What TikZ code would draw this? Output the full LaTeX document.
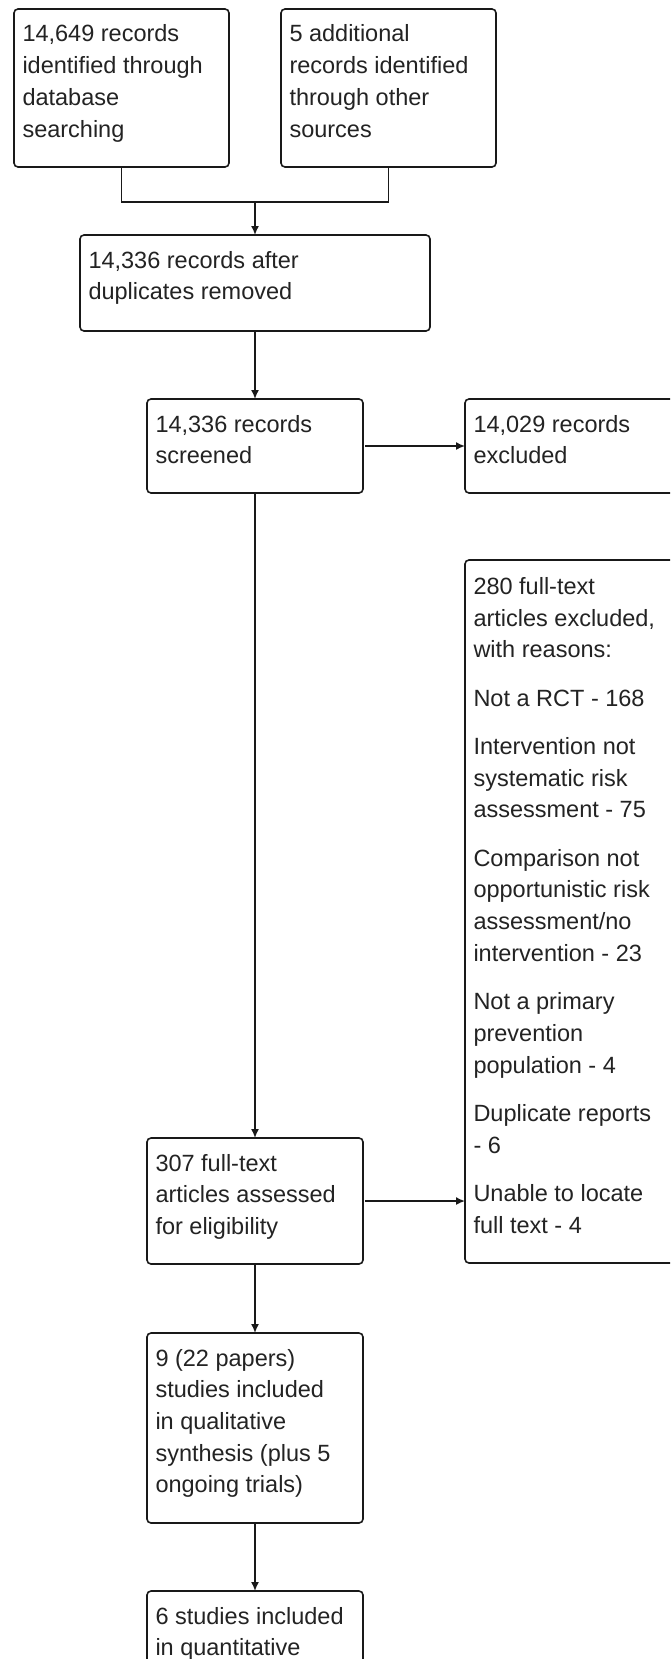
\documentclass[tikz,border=0pt]{standalone}
\usepackage{fontspec}
\setmainfont{Liberation Sans}
\usetikzlibrary{arrows.meta,calc}
\definecolor{ink}{RGB}{25,25,25}
\definecolor{txtc}{RGB}{35,35,35}
\tikzset{
  boxstyle/.style={draw=ink, line width=1.6pt, rounded corners=4pt, fill=white,
    anchor=north west, inner sep=0pt, outer sep=0pt},
  txtstyle/.style={anchor=base west, inner sep=0pt, outer sep=0pt, text=txtc,
    font=\fontsize{23.5pt}{31.7pt}\selectfont},
  conn/.style={draw=ink, line width=1.6pt},
  arr/.style={conn, -{Latex[length=9pt,width=8pt]}}
}
\newcommand{\boxtxt}[1]{\parbox[t]{320pt}{\raggedright #1}}
\begin{document}
\begin{tikzpicture}[x=1pt,y=-1pt]
\useasboundingbox (0,0) rectangle (670,1659);
\fill[white] (0,0) rectangle (670,1659);
\clip (0,0) rectangle (670,1659);

% boxes
\node[boxstyle, minimum width=215pt, minimum height=158pt] (b1) at (14,9) {};
\node[boxstyle, minimum width=215pt, minimum height=158pt] (b2) at (281,9) {};
\node[boxstyle, minimum width=350pt, minimum height=96pt] (b3) at (80,235) {};
\node[boxstyle, minimum width=216pt, minimum height=94pt] (b4) at (147,399) {};
\node[boxstyle, minimum width=240pt, minimum height=94pt] (b5) at (465,399) {};
\node[boxstyle, minimum width=240pt, minimum height=703pt] (b6) at (465,560) {};
\node[boxstyle, minimum width=216pt, minimum height=126pt] (b7) at (147,1138) {};
\node[boxstyle, minimum width=216pt, minimum height=190pt] (b8) at (147,1333) {};
\node[boxstyle, minimum width=216pt, minimum height=140pt] (b9) at (147,1591) {};

% texts
\node[txtstyle] (t1) at ($(b1.north west)+(8.5,33)$) {\boxtxt{14,649 records\\identified through\\database\\searching}};
\node[txtstyle] (t2) at ($(b2.north west)+(8.5,33)$) {\boxtxt{5 additional\\records identified\\through other\\sources}};
\node[txtstyle] (t3) at ($(b3.north west)+(8.5,33)$) {\boxtxt{14,336 records after\\duplicates removed}};
\node[txtstyle] (t4) at ($(b4.north west)+(8.5,33)$) {\boxtxt{14,336 records\\screened}};
\node[txtstyle] (t5) at ($(b5.north west)+(8.5,33)$) {\boxtxt{14,029 records\\excluded}};
\node[txtstyle] (t6) at ($(b6.north west)+(8.5,34.5)$) {\boxtxt{280 full-text\\articles excluded,\\with reasons:\\[16.6pt]
Not a RCT - 168\\[16.6pt]
Intervention not\\systematic risk\\assessment - 75\\[16.6pt]
Comparison not\\opportunistic risk\\assessment/no\\intervention - 23\\[16.6pt]
Not a primary\\prevention\\population - 4\\[16.6pt]
Duplicate reports\\- 6\\[16.6pt]
Unable to locate\\full text - 4}};
\node[txtstyle] (t7) at ($(b7.north west)+(8.5,33)$) {\boxtxt{307 full-text\\articles assessed\\for eligibility}};
\node[txtstyle] (t8) at ($(b8.north west)+(8.5,33)$) {\boxtxt{9 (22 papers)\\studies included\\in qualitative\\synthesis (plus 5\\ongoing trials)}};
\node[txtstyle] (t9) at ($(b9.north west)+(8.5,33)$) {\boxtxt{6 studies included\\in quantitative}};

% connectors
\coordinate (j) at (255,202);
\draw[conn] (b1.south) |- (j) -| (b2.south);
\draw[arr] (j) -- (b3.north);
\draw[arr] (b3.south) -- (b4.north);
\draw[arr] ([xshift=2pt]b4.east) -- (b5.west);
\draw[arr] (b4.south) -- (b7.north);
\draw[arr] ([xshift=2pt]b7.east) -- (b7.east -| b6.west);
\draw[arr] (b7.south) -- (b8.north);
\draw[arr] (b8.south) -- (b9.north);
\end{tikzpicture}
\end{document}
